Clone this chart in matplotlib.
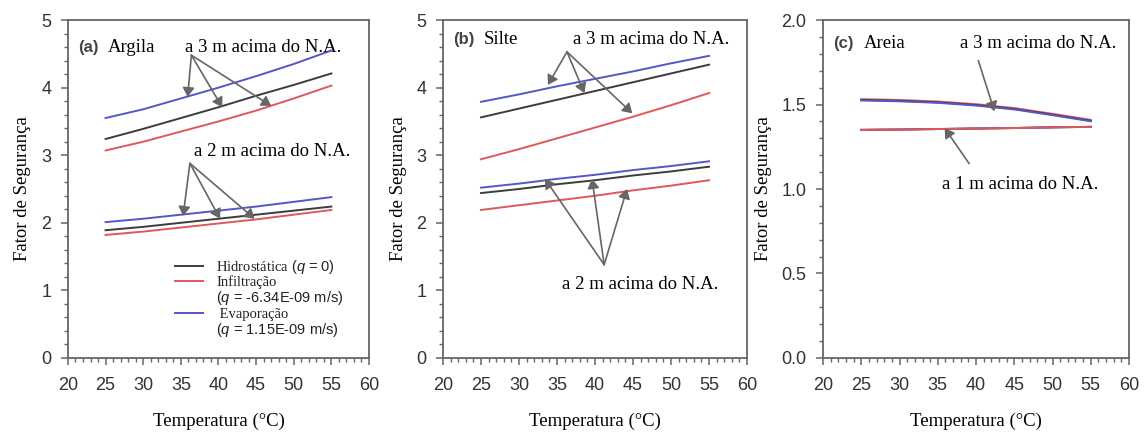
import numpy as np
import matplotlib
matplotlib.use("Agg")
import matplotlib.pyplot as plt
from matplotlib.lines import Line2D
from matplotlib.ticker import MultipleLocator

plt.rcParams["font.family"] = ["Liberation Sans", "DejaVu Sans"]
plt.rcParams["mathtext.fontset"] = "custom"
plt.rcParams["mathtext.it"] = "Liberation Sans:italic"
plt.rcParams["mathtext.rm"] = "Liberation Sans"

SERIF = ["Liberation Serif", "DejaVu Serif"]

# Données
temperatura = [25, 30, 35, 40, 45, 50, 55]

# (a) Argila
argila_3m_hidro = [3.24, 3.39, 3.55, 3.71, 3.88, 4.04, 4.21]
argila_3m_infil = [3.07, 3.20, 3.35, 3.50, 3.66, 3.84, 4.03]
argila_3m_evap = [3.55, 3.68, 3.84, 4.00, 4.17, 4.35, 4.55]
argila_2m_hidro = [1.89, 1.94, 2.00, 2.06, 2.12, 2.18, 2.24]
argila_2m_infil = [1.82, 1.87, 1.93, 1.99, 2.05, 2.12, 2.19]
argila_2m_evap = [2.01, 2.06, 2.12, 2.18, 2.24, 2.31, 2.38]

# (b) Silte
silte_3m_hidro = [3.56, 3.69, 3.82, 3.95, 4.08, 4.21, 4.34]
silte_3m_infil = [2.94, 3.09, 3.25, 3.41, 3.57, 3.74, 3.92]
silte_3m_evap = [3.79, 3.90, 4.02, 4.13, 4.24, 4.36, 4.47]
silte_2m_hidro = [2.44, 2.50, 2.57, 2.63, 2.70, 2.76, 2.83]
silte_2m_infil = [2.19, 2.26, 2.33, 2.40, 2.48, 2.55, 2.63]
silte_2m_evap = [2.52, 2.58, 2.65, 2.71, 2.78, 2.84, 2.91]

# (c) Areia
areia_3m_hidro = [1.527, 1.522, 1.513, 1.497, 1.474, 1.440, 1.404]
areia_3m_infil = [1.532, 1.527, 1.518, 1.502, 1.479, 1.445, 1.409]
areia_3m_evap = [1.524, 1.519, 1.510, 1.494, 1.471, 1.437, 1.401]
areia_1m_hidro = [1.350, 1.352, 1.355, 1.358, 1.361, 1.365, 1.368]
areia_1m_infil = [1.350, 1.352, 1.355, 1.358, 1.361, 1.365, 1.368]
areia_1m_evap = [1.350, 1.352, 1.355, 1.358, 1.361, 1.365, 1.368]

rotulos_legenda = [
    r"Hidrostática $(q\text{ = 0)}$",
    "Infiltração",
    r"$(q\text{ = -6.34E-09 m/s)}$",
    " Evaporação",
    r"$(q\text{ = 1.15E-09 m/s)}$",
]

COR_HIDRO = "#3c3c3c"
COR_INFIL = "#e05858"
COR_EVAP = "#5555cc"
COR_SETA = "#666666"

fig = plt.figure(figsize=(11.46, 4.36), dpi=100)
posicoes = [
    [0.0593, 0.179, 0.2627, 0.775],
    [0.3866, 0.179, 0.2653, 0.775],
    [0.7182, 0.179, 0.2670, 0.775],
]
axes = [fig.add_axes(p) for p in posicoes]


def estilo_eixo(ax, ymax, ymaior, ymenor, fmt):
    ax.set_xlim(20, 60)
    ax.set_ylim(0, ymax)
    ax.xaxis.set_major_locator(MultipleLocator(5))
    ax.xaxis.set_minor_locator(MultipleLocator(1))
    ax.yaxis.set_major_locator(MultipleLocator(ymaior))
    ax.yaxis.set_minor_locator(MultipleLocator(ymenor))
    ax.yaxis.set_major_formatter(fmt)
    for s in ax.spines.values():
        s.set_color("#666666")
        s.set_linewidth(1.3)
    ax.tick_params(which="major", direction="out", length=5, width=1.1,
                   color="#666666", labelsize=13, labelcolor="#333333")
    ax.tick_params(axis="x", which="major", pad=9)
    ax.tick_params(axis="y", which="major", pad=7)
    ax.tick_params(which="minor", direction="out", length=3, width=1.0,
                   color="#666666")
    ax.set_xlabel("Temperatura (°C)", family=SERIF, fontsize=13.5,
                  labelpad=13)
    ax.set_ylabel("Fator de Segurança", family=SERIF, fontsize=13.5,
                  labelpad=7)


def tracar(ax, hidro, infil, evap, ordem="hie"):
    series = {"h": (hidro, COR_HIDRO), "i": (infil, COR_INFIL),
              "e": (evap, COR_EVAP)}
    linhas = {}
    for k in ordem:
        y, cor = series[k]
        linhas[k], = ax.plot(temperatura, y, color=cor, lw=1.4)
    return linhas


def setas(ax, origem, alvos):
    for alvo in alvos:
        ax.annotate("", xy=alvo, xytext=origem,
                    arrowprops=dict(arrowstyle="-|>,head_width=0.25",
                                    color=COR_SETA, lw=1.2,
                                    mutation_scale=14,
                                    shrinkA=0, shrinkB=0))


def titulo(ax, letra, nome, y):
    ax.text(21.3, y, letra, fontsize=12, fontweight="bold", color="#444444",
            va="center")
    ax.text(25.3, y, nome, family=SERIF, fontsize=13.5, va="center")


# (a) Argila
ax = axes[0]
estilo_eixo(ax, 5, 1, 0.2, "{x:.0f}")
l = tracar(ax, argila_3m_hidro, argila_3m_infil, argila_3m_evap)
tracar(ax, argila_2m_hidro, argila_2m_infil, argila_2m_evap)
titulo(ax, "(a)", "Argila", 4.6)
ax.text(35.5, 4.6, "a 3 m acima do N.A.", family=SERIF, fontsize=13.5,
        va="center")
ax.text(36.8, 3.05, "a 2 m acima do N.A.", family=SERIF, fontsize=13.5,
        va="center")
setas(ax, (36.4, 4.48), [(35.9, 3.86), (40.5, 3.71), (47.0, 3.73)])
setas(ax, (36.2, 2.88), [(35.3, 2.10), (40.2, 2.06), (44.8, 2.06)])
vazio = Line2D([], [], color="none")
leg = ax.legend([l["h"], l["i"], vazio, l["e"], vazio], rotulos_legenda,
                loc="lower right", bbox_to_anchor=(0.935, 0.04),
                frameon=False, fontsize=10.5, handlelength=1.9,
                handletextpad=0.9, labelspacing=0.0, borderaxespad=0)
for t in leg.get_texts():
    t.set_family(SERIF)
    t.set_color("#222222")

# (b) Silte
ax = axes[1]
estilo_eixo(ax, 5, 1, 0.2, "{x:.0f}")
tracar(ax, silte_3m_hidro, silte_3m_infil, silte_3m_evap)
tracar(ax, silte_2m_hidro, silte_2m_infil, silte_2m_evap)
titulo(ax, "(b)", "Silte", 4.71)
ax.text(37.1, 4.71, "a 3 m acima do N.A.", family=SERIF, fontsize=13.5,
        va="center")
ax.text(35.7, 1.08, "a 2 m acima do N.A.", family=SERIF, fontsize=13.5,
        va="center")
setas(ax, (36.3, 4.53), [(33.8, 4.04), (38.6, 3.92), (44.9, 3.62)])
setas(ax, (41.2, 1.38), [(33.4, 2.65), (39.6, 2.65), (44.2, 2.50)])

# (c) Areia
ax = axes[2]
estilo_eixo(ax, 2, 0.5, 0.1, "{x:.1f}")
tracar(ax, areia_3m_hidro, areia_3m_infil, areia_3m_evap, ordem="ihe")
tracar(ax, areia_1m_hidro, areia_1m_infil, areia_1m_evap, ordem="hei")
titulo(ax, "(c)", "Areia", 1.86)
ax.text(37.9, 1.86, "a 3 m acima do N.A.", family=SERIF, fontsize=13.5,
        va="center")
ax.text(35.6, 1.025, "a 1 m acima do N.A.", family=SERIF, fontsize=13.5,
        va="center")
setas(ax, (40.3, 1.76), [(42.4, 1.46)])
setas(ax, (39.1, 1.15), [(35.9, 1.36)])

fig.savefig("out.png", dpi=100)
